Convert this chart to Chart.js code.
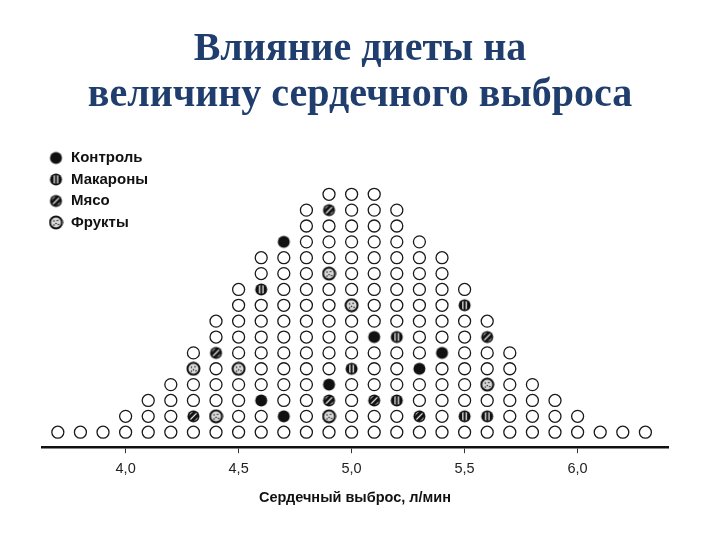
<!DOCTYPE html>
<html>
<head>
<meta charset="utf-8">
<title>Влияние диеты на величину сердечного выброса</title>
<script src="https://cdn.jsdelivr.net/npm/chart.js@4.4.1/dist/chart.umd.min.js"></script>
<style>
  html, body { margin: 0; padding: 0; background: #fff; }
  canvas { display: block; }
</style>
</head>
<body>
<canvas id="canvas" width="720" height="540"></canvas>
<script>
'use strict';

// DATA: one column of dots per 0.1 l/min, counted off the picture
const outputValues = [3.7, 3.8, 3.9, 4.0, 4.1, 4.2, 4.3, 4.4, 4.5, 4.6, 4.7, 4.8, 4.9,
  5.0, 5.1, 5.2, 5.3, 5.4, 5.5, 5.6, 5.7, 5.8, 5.9, 6.0, 6.1, 6.2, 6.3];
const columnCounts = [1, 1, 1, 2, 3, 4, 6, 8, 10, 12, 13, 15, 16,
  16, 16, 15, 13, 12, 10, 8, 6, 4, 3, 2, 1, 1, 1];

// marked dots: value and place in its column (1 = bottom dot)
const controlValues = [4.6, 4.7, 4.7, 4.9, 5.1, 5.3, 5.4];
const controlLevels = [3, 13, 2, 4, 7, 5, 6];
const pastaValues = [4.6, 5.0, 5.2, 5.2, 5.5, 5.5, 5.6];
const pastaLevels = [10, 5, 7, 3, 9, 2, 2];
const meatValues = [4.3, 4.4, 4.9, 4.9, 5.1, 5.3, 5.6];
const meatLevels = [2, 6, 15, 3, 3, 2, 7];
const fruitValues = [4.3, 4.4, 4.5, 4.9, 4.9, 5.0, 5.6];
const fruitLevels = [5, 2, 5, 11, 2, 9, 4];

const groupNames = ['Контроль', 'Макароны', 'Мясо', 'Фрукты'];
const tickValues = [4.0, 4.5, 5.0, 5.5, 6.0];

const key = (v, level) => v.toFixed(1) + '|' + level;

const toPoints = (values, levels) => values.map((v, i) => ({ x: v, y: levels[i] }));

const groups = [
  toPoints(controlValues, controlLevels),
  toPoints(pastaValues, pastaLevels),
  toPoints(meatValues, meatLevels),
  toPoints(fruitValues, fruitLevels),
];

// every other dot is a plain open circle
const marked = new Set();
groups.forEach(g => g.forEach(p => marked.add(key(p.x, p.y))));

const plainPoints = [];
for (let i = 0; i < outputValues.length; i++) {
  for (let level = 1; level <= columnCounts[i]; level++) {
    if (!marked.has(key(outputValues[i], level))) {
      plainPoints.push({ x: outputValues[i], y: level });
    }
  }
}

// small hand drawn markers like in the old printed figure
const makeMarker = kind => {
  const size = 15;
  const r = 6;
  const c = document.createElement('canvas');
  c.width = size;
  c.height = size;
  const ctx = c.getContext('2d');
  ctx.translate(size / 2, size / 2);

  ctx.beginPath();
  ctx.arc(0, 0, r, 0, Math.PI * 2);
  if (kind === 'fruit') {
    ctx.fillStyle = '#d9d9d9';
    ctx.fill();
    ctx.lineWidth = 2;
    ctx.strokeStyle = '#111';
    ctx.stroke();
    ctx.fillStyle = '#111';
    [[-2, -1.5], [1.5, -2], [0, 1], [-2, 2.5], [2.5, 2]].forEach(d => {
      ctx.beginPath();
      ctx.arc(d[0], d[1], 0.75, 0, Math.PI * 2);
      ctx.fill();
    });
    return c;
  }

  ctx.fillStyle = '#111';
  ctx.fill();
  if (kind === 'control') return c;

  ctx.save();
  ctx.beginPath();
  ctx.arc(0, 0, r - 1.6, 0, Math.PI * 2);
  ctx.clip();
  ctx.strokeStyle = '#fff';
  ctx.lineWidth = 1.2;
  if (kind === 'pasta') {
    [-1.7, 1.7].forEach(x => {
      ctx.beginPath();
      ctx.moveTo(x, -r);
      ctx.lineTo(x, r);
      ctx.stroke();
    });
  } else {
    [-3, 0, 3].forEach(o => {
      ctx.beginPath();
      ctx.moveTo(-r + o, r + o);
      ctx.lineTo(r + o, -r + o);
      ctx.stroke();
    });
  }
  ctx.restore();
  return c;
};

const markers = ['control', 'pasta', 'meat', 'fruit'].map(makeMarker);

const datasets = [
  {
    label: 'plain',
    data: plainPoints,
    pointStyle: 'circle',
    pointRadius: 6,
    pointBackgroundColor: '#fff',
    pointBorderColor: '#1a1a1a',
    pointBorderWidth: 1.3,
  },
];
groups.forEach((g, i) => {
  datasets.push({
    label: groupNames[i],
    data: g,
    pointStyle: markers[i],
    pointRadius: 6,
  });
});

// v4 puts a vertical 'chartArea' legend at the canvas top, so move it down into the plot,
// and centre the title on the whole canvas, not only on the padded part
const layoutFix = {
  id: 'layoutFix',
  afterLayout: c => {
    const lg = c.legend;
    const dy = c.chartArea.top - lg.top;
    lg.top += dy;
    lg.bottom += dy;
    c.titleBlock.left = 0;
    c.titleBlock.right = c.width;
  },
};

const chart = new Chart(document.getElementById('canvas').getContext('2d'), {
  type: 'scatter',
  data: { datasets },
  plugins: [layoutFix],
  options: {
    responsive: false,
    animation: false,
    events: [],
    layout: { padding: { left: 42, right: 52, top: 0, bottom: 33 } },
    plugins: {
      title: {
        display: true,
        text: ['Влияние диеты на', 'величину сердечного выброса'],
        color: '#1f3d6d',
        font: { family: 'Liberation Serif', size: 40, weight: 'bold', lineHeight: 1.15 },
        padding: { top: 27, bottom: 25 },
      },
      legend: {
        position: 'chartArea',
        align: 'start',
        labels: {
          usePointStyle: true,
          padding: 6.5,
          color: '#111',
          font: { family: 'Liberation Sans', size: 15, weight: 'bold' },
          filter: item => item.datasetIndex > 0,
        },
      },
      tooltip: { enabled: false },
    },
    scales: {
      x: {
        type: 'linear',
        min: 3.63,
        max: 6.4,
        afterBuildTicks: axis => {
          axis.ticks = tickValues.map(v => ({ value: v }));
        },
        grid: { drawOnChartArea: false, tickLength: 6, color: '#333', lineWidth: 1 },
        border: { display: true, color: '#111', width: 2.5 },
        ticks: {
          padding: 7,
          color: '#222',
          font: { family: 'Liberation Sans', size: 14.5 },
          callback: v => Number(v).toFixed(1).replace('.', ','),
        },
        title: {
          display: true,
          text: 'Сердечный выброс, л/мин',
          color: '#111',
          font: { family: 'Liberation Sans', size: 14.5, weight: 'bold' },
          padding: { top: 5, bottom: 0 },
        },
      },
      y: {
        type: 'linear',
        display: false,
        min: 0.054,
        max: 19.17,
      },
    },
  },
});
</script>
</body>
</html>
